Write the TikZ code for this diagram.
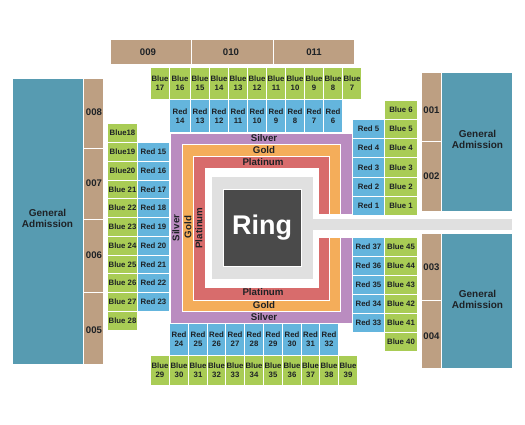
\documentclass[tikz,border=0pt]{standalone}
\usepackage{xcolor}
\usepackage{fontspec}
\setmainfont{Liberation Sans}
\definecolor{ink}{HTML}{1E2226}
\definecolor{seatGreen}{HTML}{A9CC55}
\definecolor{seatBlue}{HTML}{64B5DD}
\definecolor{sectTan}{HTML}{BD9F82}
\definecolor{gaTeal}{HTML}{579BB1}
\definecolor{silverBand}{HTML}{BA8CC0}
\definecolor{goldBand}{HTML}{F4AD5A}
\definecolor{platBand}{HTML}{D86C6C}
\definecolor{floorGrey}{HTML}{E0E0E0}
\definecolor{ringDk}{HTML}{4A4A4A}
\tikzset{
  sectbox/.style={inner sep=0pt, outer sep=0pt, align=center, text=ink, font=\bfseries\fontsize{7.8}{8.8}\selectfont},
  seatgreen/.style={sectbox, fill=seatGreen},
  seatblue/.style={sectbox, fill=seatBlue},
  tansect/.style={sectbox, fill=sectTan},
  gasect/.style={sectbox, fill=gaTeal},
  band/.style={sectbox, draw=white, line width=0.8pt},
  tanword/.style={inner sep=0pt, text=ink, font=\bfseries\fontsize{9.6}{10}\selectfont},
  gaword/.style={inner sep=0pt, align=center, text=ink, font=\bfseries\fontsize{10}{10.8}\selectfont},
  bandword/.style={inner sep=0pt, text=ink, font=\bfseries\fontsize{9.7}{10}\selectfont}
}
% style, name, left, top, right, bottom, text
\newcommand{\sect}[7]{%
  \node[#1, minimum width={(#5-#3)*1pt}, minimum height={(#6-#4)*1pt}] (#2) at ({(#3+#5)/2},{(#4+#6)/2}) {#7};}
\begin{document}
\begin{tikzpicture}[x=1pt, y=-1pt]
  \useasboundingbox (0,0) rectangle (525,425);

  % far sections
  \sect{tansect}{s009}{111}{40}{191}{64}{}
  \sect{tansect}{s010}{192}{40}{273}{64}{}
  \sect{tansect}{s011}{274}{40}{354}{64}{}
  \sect{gasect}{gaWest}{13}{79}{83}{364}{}
  \sect{tansect}{s008}{84}{79}{103}{148}{}
  \sect{tansect}{s007}{84}{149}{103}{219}{}
  \sect{tansect}{s006}{84}{220}{103}{292}{}
  \sect{tansect}{s005}{84}{293}{103}{364}{}
  \sect{tansect}{s001}{422}{73}{441}{141}{}
  \sect{tansect}{s002}{422}{142}{441}{211}{}
  \sect{gasect}{gaNorth}{442}{73}{512}{211}{}
  \sect{tansect}{s003}{422}{234}{441}{300}{}
  \sect{tansect}{s004}{422}{301}{441}{368}{}
  \sect{gasect}{gaSouth}{442}{234}{512}{368}{}

  % their words sit a little off centre
  \foreach \lbl/\xc/\yc in {009/148/52,010/231/52,011/314/52,008/94/112,007/94/183,006/94/255,005/94/330,001/431.5/110,002/431.5/176.5,003/431.5/267,004/431.5/336}
    \node[tanword] (word\lbl) at (\xc,\yc) {\lbl};
  \node[gaword] (wordWest) at (47.5,218.5) {General\\Admission};
  \node[gaword] (wordNorth) at (477.5,139.5) {General\\Admission};
  \node[gaword] (wordSouth) at (477.5,299.5) {General\\Admission};

  % top rows
  \foreach \num/\xa/\xb in {17/151/169,16/170/190,15/191/209,14/210/228,13/229/247,12/248/266,11/267/285,10/286/304,9/305/323,8/324/342,7/343/361}
    \sect{seatgreen}{blue\num}{\xa}{68}{\xb}{99}{Blue\\\num};
  \foreach \num/\xa/\xb in {14/170/190,13/191/209,12/210/228,11/229/247,10/248/266,9/267/285,8/286/304,7/305/323,6/324/342}
    \sect{seatblue}{red\num}{\xa}{100}{\xb}{132}{Red\\\num};

  % left columns
  \foreach \lbl/\ya/\yb in {Blue18/124/142,Blue19/143/161,Blue20/162/180,Blue 21/181/198,Blue 22/199/217,Blue 23/218/236,Blue 24/237/255,Blue 25/256/273,Blue 26/274/292,Blue 27/293/311,Blue 28/312/330}
    \sect{seatgreen}{\lbl}{108}{\ya}{137}{\yb}{\lbl};
  \foreach \lbl/\ya/\yb in {Red 15/143/161,Red 16/162/180,Red 17/181/198,Red 18/199/217,Red 19/218/236,Red 20/237/255,Red 21/256/273,Red 22/274/292,Red 23/293/311}
    \sect{seatblue}{\lbl}{138}{\ya}{169}{\yb}{\lbl};

  % right columns
  \foreach \lbl/\ya/\yb in {Red 5/120/138,Red 4/139/157,Red 3/158/177,Red 2/178/196,Red 1/197/215,Red 37/238/256,Red 36/257/275,Red 35/276/294,Red 34/295/313,Red 33/314/332}
    \sect{seatblue}{\lbl}{353}{\ya}{384}{\yb}{\lbl};
  \foreach \lbl/\ya/\yb in {Blue 6/101/119,Blue 5/120/138,Blue 4/139/157,Blue 3/158/177,Blue 2/178/196,Blue 1/197/215,Blue 45/238/256,Blue 44/257/275,Blue 43/276/294,Blue 42/295/313,Blue 41/314/332,Blue 40/333/351}
    \sect{seatgreen}{\lbl}{385}{\ya}{417}{\yb}{\lbl};

  % bottom rows
  \foreach \num/\xa/\xb in {24/170/188,25/189/207,26/208/225,27/226/244,28/245/263,29/264/282,30/283/301,31/302/319,32/320/338}
    \sect{seatblue}{red\num}{\xa}{324}{\xb}{355}{Red\\\num};
  \foreach \num/\xa/\xb in {29/151/169,30/170/188,31/189/207,32/208/225,33/226/244,34/245/263,35/264/282,36/283/301,37/302/319,38/320/338,39/339/357}
    \sect{seatgreen}{blue\num}{\xa}{356}{\xb}{385}{Blue\\\num};

  % floor
  \sect{band, fill=silverBand}{silverArea}{170}{133}{352}{323}{}
  \sect{band, fill=goldBand}{goldArea}{182}{144}{340}{311}{}
  \sect{band, fill=platBand}{platArea}{193}{156}{329}{300}{}
  \sect{sectbox, fill=white}{innerArea}{205}{168}{319}{288}{}
  \sect{sectbox, fill=floorGrey}{floorArea}{212}{177}{313}{279}{}
  \sect{sectbox, fill=white}{aisleGap}{313}{214}{353}{238}{}
  \sect{sectbox, fill=floorGrey}{aisle}{313}{219}{512}{230}{}
  \node[sectbox, fill=ringDk, draw=white, line width=0.6pt, text=white, minimum width=78pt, minimum height=77pt,
        font=\bfseries\fontsize{27}{27}\selectfont] (ring) at (262,227.5) {Ring};

  % band words
  \node[bandword] (silverN) at (264,138.5) {Silver};
  \node[bandword] (goldN) at (264,150.5) {Gold};
  \node[bandword] (platN) at (263,162.5) {Platinum};
  \node[bandword] (platS) at (263,292.5) {Platinum};
  \node[bandword] (goldS) at (264,305.5) {Gold};
  \node[bandword] (silverS) at (264,317) {Silver};
  \node[bandword, rotate=90] (silverW) at (176,228) {Silver};
  \node[bandword, rotate=90] (goldW) at (188,227) {Gold};
  \node[bandword, rotate=90] (platW) at (199,228) {Platinum};
\end{tikzpicture}
\end{document}
